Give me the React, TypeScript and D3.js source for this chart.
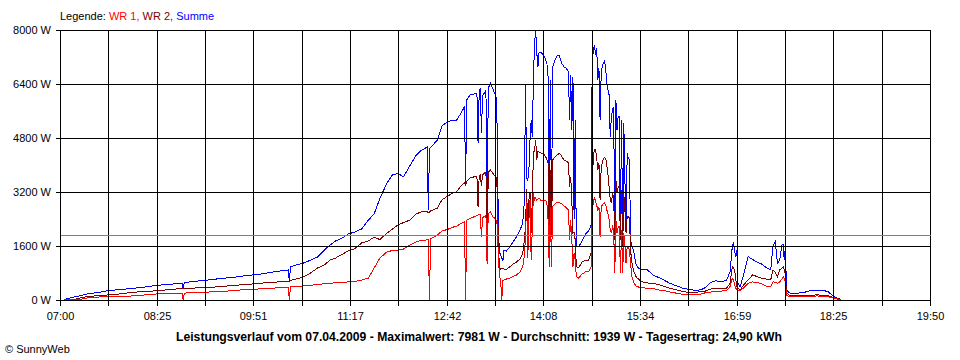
import React, { useEffect, useRef } from "react";
import * as d3 from "d3";

// Zeitpunkte (HH:MM) und Leistung in W
const times = [
  "07:04", "07:14", "07:18", "07:24", "07:31", "07:37", "07:42", "07:53", "08:05", "08:15",
  "08:26", "08:37", "08:48", "08:49", "08:50", "08:59", "09:10", "09:22", "09:33", "09:45",
  "09:55", "10:06", "10:15", "10:22", "10:23", "10:24", "10:29", "10:35", "10:41", "10:48",
  "10:54", "10:59", "11:04", "11:10", "11:15", "11:21", "11:27", "11:33", "11:38", "11:43",
  "11:49", "11:54", "11:59", "12:04", "12:10", "12:15", "12:20", "12:25", "12:26", "12:27",
  "12:28", "12:34", "12:38", "12:43", "12:47", "12:51", "12:55", "12:58", "12:59", "13:00",
  "13:03", "13:06", "13:09", "13:10", "13:11", "13:12", "13:13", "13:14", "13:16", "13:17",
  "13:18", "13:19", "13:21", "13:23", "13:25", "13:26", "13:27", "13:28", "13:29", "13:30",
  "13:31", "13:32", "13:33", "13:35", "13:38", "13:41", "13:44", "13:47", "13:49", "13:50",
  "13:51", "13:52", "13:53", "13:54", "13:55", "13:56", "13:57", "13:58", "13:59", "14:00",
  "14:01", "14:02", "14:03", "14:04", "14:06", "14:08", "14:10", "14:11", "14:12", "14:13",
  "14:14", "14:15", "14:16", "14:18", "14:20", "14:22", "14:24", "14:26", "14:28", "14:30",
  "14:31", "14:32", "14:33", "14:34", "14:35", "14:36", "14:37", "14:39", "14:42", "14:45",
  "14:48", "14:50", "14:51", "14:52", "14:53", "14:54", "14:55", "14:56", "14:57", "14:58",
  "14:59", "15:00", "15:01", "15:02", "15:03", "15:04", "15:05", "15:06", "15:07", "15:08",
  "15:09", "15:10", "15:11", "15:12", "15:13", "15:14", "15:15", "15:16", "15:17", "15:18",
  "15:19", "15:20", "15:21", "15:22", "15:23", "15:24", "15:25", "15:26", "15:27", "15:28",
  "15:30", "15:32", "15:35", "15:40", "15:45", "15:50", "15:55", "16:00", "16:06", "16:12",
  "16:18", "16:24", "16:30", "16:36", "16:40", "16:45", "16:50", "16:53", "16:55", "16:56",
  "16:57", "16:58", "16:59", "17:00", "17:02", "17:05", "17:09", "17:13", "17:17", "17:21",
  "17:25", "17:29", "17:31", "17:33", "17:35", "17:37", "17:39", "17:40", "17:41", "17:42",
  "17:43", "17:46", "17:52", "17:58", "18:04", "18:10", "18:16", "18:20", "18:24", "18:28",
  "18:31",
];

const wr1 = [
  0, 20, 20, 60, 75, 100, 105, 110, 120, 150,
  180, 185, 200, 0, 205, 220, 235, 245, 280, 310,
  325, 345, 365, 375, 0, 400, 405, 415, 435, 460,
  480, 495, 510, 525, 535, 550, 590, 650, 950, 1235,
  1420, 1465, 1480, 1510, 1630, 1720, 1765, 1780, 1780, 0,
  1810, 1925, 2045, 2090, 2150, 2190, 2270, 2320, 0, 2370,
  2420, 2460, 2505, 2520, 2520, 2520, 1875, 2430, 2490, 2500,
  1080, 2550, 2610, 2470, 2415, 2370, 2220, 1250, 690, 590,
  0, 590, 590, 620, 650, 695, 740, 830, 950, 1065,
  1330, 1875, 2900, 1245, 2370, 2960, 1185, 2075, 3170, 2960,
  3020, 2960, 2990, 3020, 2935, 2935, 2960, 2815, 2370, 985,
  2765, 985, 2765, 2845, 2905, 2875, 2865, 2785, 2740, 2665,
  1780, 2370, 1780, 985, 1400, 1185, 690, 650, 770, 830,
  845, 985, 2370, 2960, 3020, 2935, 2815, 2665, 2765, 1875,
  2765, 2815, 2865, 2875, 2815, 2665, 2550, 2370, 2075, 1975,
  2170, 2075, 790, 2370, 1975, 2170, 2170, 790, 2075, 790,
  1975, 1630, 1085, 1580, 1540, 1480, 1085, 710, 620, 505,
  415, 385, 370, 345, 345, 295, 275, 235, 200, 165,
  150, 150, 205, 235, 250, 265, 275, 395, 645, 590,
  475, 355, 295, 280, 275, 355, 495, 535, 520, 475,
  415, 395, 540, 520, 495, 535, 620, 690, 650, 535,
  150, 90, 100, 100, 110, 120, 110, 90, 75, 30,
  15,
];

const wr2 = [
  0, 30, 60, 100, 120, 130, 150, 180, 230, 250,
  275, 310, 340, 340, 345, 355, 370, 395, 430, 460,
  490, 520, 540, 560, 560, 580, 620, 680, 785, 950,
  1040, 1185, 1245, 1360, 1450, 1525, 1690, 1750, 1865, 1790,
  1970, 2100, 2220, 2295, 2370, 2550, 2610, 2620, 2580, 2610,
  2640, 2725, 2965, 3080, 3155, 3210, 3380, 3470, 3410, 3525,
  3615, 3645, 3650, 2765, 3675, 3700, 3380, 3700, 3780, 3790,
  1080, 3790, 3850, 3760, 3675, 3645, 3260, 1700, 890, 920,
  940, 935, 920, 905, 980, 1065, 1125, 1215, 1330, 1480,
  1780, 2200, 3300, 2075, 2960, 3170, 1985, 2960, 4355, 4440,
  4740, 4150, 4395, 4385, 4355, 4325, 4235, 4150, 4060, 1985,
  3850, 1875, 4150, 4235, 4295, 4345, 4265, 4150, 4120, 4060,
  3350, 3650, 2960, 1985, 2000, 1780, 985, 950, 1125, 1170,
  1185, 1390, 3170, 4295, 4445, 4445, 4205, 3850, 4060, 2960,
  3950, 4060, 4195, 4210, 4195, 3970, 3705, 3355, 2960, 2865,
  3160, 3060, 1780, 3555, 3160, 3355, 3355, 1780, 3260, 1580,
  3160, 2665, 1975, 2470, 2470, 2430, 1480, 1125, 980, 830,
  680, 620, 540, 505, 495, 455, 400, 345, 295, 250,
  215, 235, 250, 325, 345, 345, 355, 495, 985, 950,
  890, 650, 395, 355, 295, 445, 595, 740, 695, 645,
  620, 595, 890, 830, 690, 890, 950, 985, 890, 740,
  200, 135, 120, 120, 140, 150, 140, 120, 75, 40,
  20,
];

const summe = [
  20, 100, 130, 180, 210, 240, 275, 310, 345, 385,
  435, 465, 495, 320, 520, 550, 590, 635, 670, 725,
  755, 815, 860, 890, 540, 980, 1040, 1090, 1170, 1275,
  1480, 1630, 1750, 1840, 1955, 2015, 2105, 2370, 2550, 3000,
  3440, 3700, 3750, 3650, 4000, 4280, 4440, 4530, 2670, 4500,
  4520, 4740, 5155, 5280, 5320, 5330, 5540, 5730, 3470, 5925,
  6075, 6100, 6125, 4650, 6165, 6280, 4950, 6045, 6165, 6200,
  1420, 6280, 6420, 6270, 6100, 6015, 5035, 2000, 1420, 1330,
  1250, 1150, 1480, 1450, 1560, 1720, 1875, 2075, 2220, 2430,
  2960, 6400, 3600, 3555, 3850, 4740, 5330, 4840, 6520, 7615,
  7981, 7320, 6910, 7350, 7320, 7260, 7110, 6990, 6615, 2765,
  6520, 2370, 6910, 7110, 7230, 7230, 7020, 6910, 6875, 6755,
  5330, 6665, 5035, 6615, 2400, 5330, 1580, 1570, 1750, 1955,
  2045, 2220, 6910, 7410, 7555, 7260, 7465, 6520, 6875, 5330,
  6725, 6935, 7015, 7110, 6815, 6420, 6220, 6075, 4840, 5430,
  5630, 5730, 1975, 5925, 5035, 5430, 5430, 2170, 5330, 1875,
  5235, 3555, 2200, 4345, 4205, 4150, 1780, 1630, 1540, 1385,
  1040, 940, 890, 890, 740, 665, 580, 490, 415, 340,
  310, 275, 340, 520, 570, 540, 580, 840, 1580, 1710,
  1480, 1285, 1480, 495, 395, 740, 1285, 1200, 1125, 1065,
  965, 890, 1580, 1730, 1085, 1185, 1630, 1630, 1185, 1580,
  295, 205, 200, 220, 275, 295, 280, 245, 120, 50,
  20,
];

const yTicks = [0, 1600, 3200, 4800, 6400, 8000];
const xLabels = ["07:00", "08:25", "09:51", "11:17", "12:42", "14:08", "15:34", "16:59", "18:25", "19:50"];
const average = 1939;
const title =
  "Leistungsverlauf vom 07.04.2009 - Maximalwert: 7981 W - Durchschnitt: 1939 W - Tagesertrag: 24,90 kWh";

const toMin = (t: string) => {
  const [h, m] = t.split(":").map(Number);
  return h * 60 + m;
};

const font = "'Liberation Sans', Arial, sans-serif";

export default function App() {
  const svgRef = useRef<SVGSVGElement>(null);

  useEffect(() => {
    const svg = d3.select(svgRef.current);
    svg.selectAll("*").remove();

    const tStart = toMin(xLabels[0]);
    const tEnd = toMin(xLabels[xLabels.length - 1]);
    const x = d3.scaleLinear().domain([tStart, tEnd]).range([60, 930]);
    const y = d3.scaleLinear().domain([0, 8000]).range([300, 30]);
    const px = (v: number) => Math.round(v) + 0.5;

    // Kurven
    const series = [
      { values: summe, color: "#0000ff" },
      { values: wr2, color: "#800000" },
      { values: wr1, color: "#ff0000" },
    ];
    const line = d3
      .line<number>()
      .x((d, i) => x(toMin(times[i])))
      .y((d) => y(d));
    svg
      .selectAll("path.serie")
      .data(series)
      .enter()
      .append("path")
      .attr("class", "serie")
      .attr("d", (s) => line(s.values))
      .attr("fill", "none")
      .attr("stroke", (s) => s.color)
      .attr("stroke-width", 1)
      .attr("shape-rendering", "crispEdges");

    // Gitter: 18 Intervalle, Beschriftung jede zweite Linie
    const gridX = d3.range(19).map((i) => tStart + (i * (tEnd - tStart)) / 18);
    const grid = svg.append("g").attr("shape-rendering", "crispEdges").attr("stroke", "#000");
    grid
      .selectAll("line.v")
      .data(gridX)
      .enter()
      .append("line")
      .attr("x1", (d) => px(x(d)))
      .attr("x2", (d) => px(x(d)))
      .attr("y1", px(y(8000)))
      .attr("y2", px(y(0)) + 5);
    grid
      .selectAll("line.h")
      .data(yTicks)
      .enter()
      .append("line")
      .attr("x1", px(x(tStart)) - 5)
      .attr("x2", px(x(tEnd)))
      .attr("y1", (d) => px(y(d)))
      .attr("y2", (d) => px(y(d)));

    // Durchschnitt
    svg
      .append("line")
      .attr("x1", px(x(tStart)))
      .attr("x2", px(x(tEnd)))
      .attr("y1", px(y(average)))
      .attr("y2", px(y(average)))
      .attr("stroke", "#808080")
      .attr("shape-rendering", "crispEdges");

    // Achsenbeschriftung
    svg
      .selectAll("text.y")
      .data(yTicks)
      .enter()
      .append("text")
      .attr("x", 51)
      .attr("y", (d) => y(d))
      .attr("dy", "0.35em")
      .attr("text-anchor", "end")
      .style("font", `11px ${font}`)
      .text((d) => `${d} W`);

    svg
      .selectAll("text.x")
      .data(xLabels)
      .enter()
      .append("text")
      .attr("x", (d, i) => px(x(gridX[i * 2])))
      .attr("y", 320)
      .attr("text-anchor", "middle")
      .style("font", `11px ${font}`)
      .text((d) => d);

    // Legende
    const legend = svg
      .append("text")
      .attr("x", 60)
      .attr("y", 20)
      .style("font", `11px ${font}`);
    legend.append("tspan").attr("fill", "#000").text("Legende: ");
    legend.append("tspan").attr("fill", "#ff0000").text("WR 1, ");
    legend.append("tspan").attr("fill", "#800000").text("WR 2, ");
    legend.append("tspan").attr("fill", "#0000ff").text("Summe");

    svg
      .append("text")
      .attr("x", 479)
      .attr("y", 341)
      .attr("text-anchor", "middle")
      .attr("textLength", 606)
      .attr("lengthAdjust", "spacingAndGlyphs")
      .style("font", `bold 12px ${font}`)
      .text(title);

    svg
      .append("text")
      .attr("x", 5)
      .attr("y", 353)
      .style("font", `11px ${font}`)
      .text("\u00a9 SunnyWeb");
  }, []);

  return (
    <svg
      ref={svgRef}
      width={960}
      height={360}
      style={{ position: "absolute", left: 0, top: 0, background: "#fff" }}
    />
  );
}
